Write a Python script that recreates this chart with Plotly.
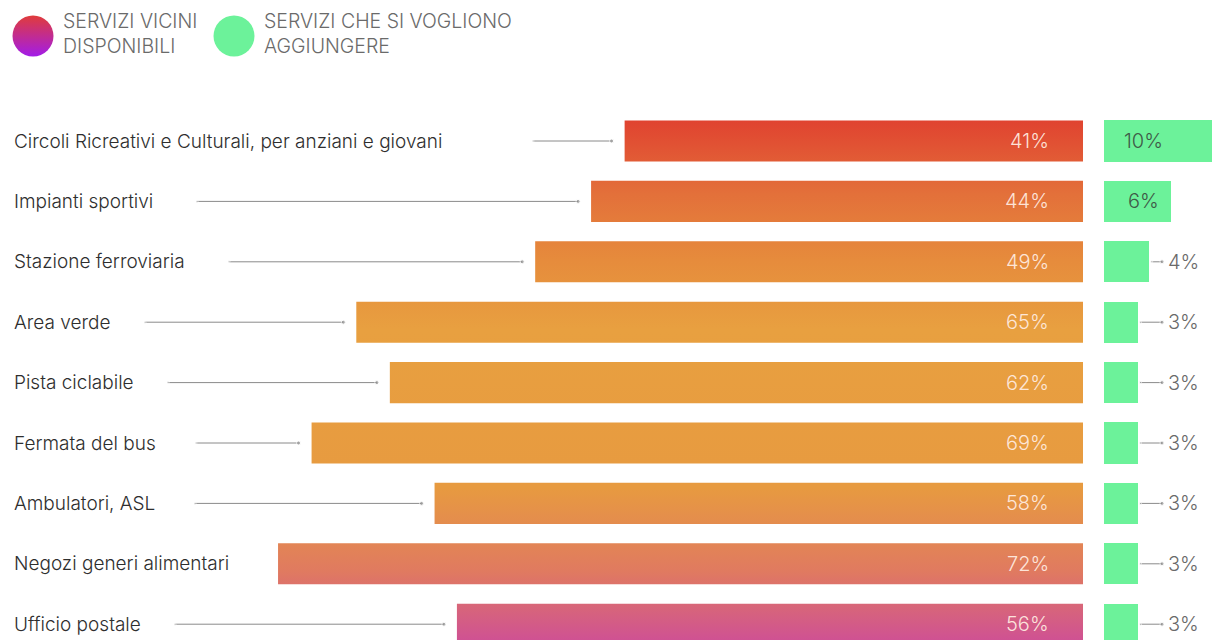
import plotly.graph_objects as go

# ---- data ----
categories = [
    "Circoli Ricreativi e Culturali, per anziani e giovani",
    "Impianti sportivi",
    "Stazione ferroviaria",
    "Area verde",
    "Pista ciclabile",
    "Fermata del bus",
    "Ambulatori, ASL",
    "Negozi generi alimentari",
    "Ufficio postale",
]
disponibili = [41, 44, 49, 65, 62, 69, 58, 72, 56]
aggiungere = [10, 6, 4, 3, 3, 3, 3, 3, 3]
legend_labels = ["SERVIZI VICINI<br>DISPONIBILI", "SERVIZI CHE SI VOGLIONO<br>AGGIUNGERE"]

# ---- layout / style ----
W, H = 1212, 640
ZERO_PX = 1083.0      # pixel where left bars end
PX_PER_UNIT = 11.18   # pixels per percentage point
ROW0_PX = 141.0
ROW_STEP = 60.4
BAR_H = 0.68
GREEN_GAP = 21 / PX_PER_UNIT
connector_start_px = [533, 197, 229, 145, 168, 196, 195, None, 175]
FONT = "Inter"
GREEN = "#6cf29a"
LINE_GRAY = "#8a8a8a"


def px2x(px):
    return (px - ZERO_PX) / PX_PER_UNIT


def px2y(py):
    return (py - ROW0_PX) / ROW_STEP


fig = go.Figure()

n = len(categories)
# gradient-filled left bars (one continuous vertical gradient)
bx, by = [], []
for i, v in enumerate(disponibili):
    y0, y1 = i - BAR_H / 2, i + BAR_H / 2
    bx += [-v, 0, 0, -v, -v, None]
    by += [y0, y0, y1, y1, y0, None]
fig.add_trace(go.Scatter(
    x=bx, y=by, mode="lines", fill="toself", line=dict(width=0),
    fillgradient=dict(
        type="vertical",
        start=-BAR_H / 2, stop=n - 1 + BAR_H / 2,
        colorscale=[
            [0.0, "#e04330"], [0.14, "#e3703a"], [0.27, "#e68c3c"],
            [0.40, "#e8a040"], [0.70, "#e79a40"], [0.86, "#e07a60"],
            [1.0, "#ce4f96"],
        ],
    ),
    hoverinfo="skip", showlegend=False,
))

# green bars
fig.add_trace(go.Bar(
    y=list(range(n)), x=aggiungere, base=[GREEN_GAP] * n, orientation="h",
    width=BAR_H, marker=dict(color=GREEN, line=dict(width=0)),
    hoverinfo="skip", showlegend=False,
))

# left connectors
for i, (v, s) in enumerate(zip(disponibili, connector_start_px)):
    if s is None:
        continue
    x_end = -v - 13 / PX_PER_UNIT
    fig.add_trace(go.Scatter(
        x=[px2x(s), x_end], y=[i, i], mode="lines+markers",
        line=dict(color=LINE_GRAY, width=1),
        marker=dict(size=[2, 4], color=LINE_GRAY),
        hoverinfo="skip", showlegend=False,
    ))

annotations = []
# category labels
for i, c in enumerate(categories):
    annotations.append(dict(
        x=px2x(12), y=i, text=c, xanchor="left", yanchor="middle",
        showarrow=False, font=dict(family=FONT, size=19, weight=300, color="#2e2e2e"),
    ))
# value labels inside left bars
for i, v in enumerate(disponibili):
    annotations.append(dict(
        x=px2x(1051), y=i, text=f"{v}%", xanchor="right", yanchor="middle",
        showarrow=False,
        font=dict(family=FONT, size=20, weight=300, color="rgba(255,236,225,0.95)"),
    ))
# green labels
for i, v in enumerate(aggiungere):
    if v >= 5:
        annotations.append(dict(
            x=px2x(1143), y=i, text=f"{v}%", xanchor="center", yanchor="middle",
            showarrow=False, font=dict(family=FONT, size=20, weight=300, color="#3f5a48"),
        ))
    else:
        x0 = GREEN_GAP + v + 3 / PX_PER_UNIT
        fig.add_trace(go.Scatter(
            x=[x0, px2x(1162)], y=[i, i], mode="lines+markers",
            line=dict(color=LINE_GRAY, width=1),
            marker=dict(size=[2, 4], color=LINE_GRAY),
            hoverinfo="skip", showlegend=False,
        ))
        annotations.append(dict(
            x=px2x(1201), y=i, text=f"{v}%", xanchor="right", yanchor="middle",
            showarrow=False, font=dict(family=FONT, size=20, weight=300, color="#6a6a6a"),
        ))

# legend markers
fig.add_trace(go.Scatter(
    x=[px2x(33)], y=[px2y(36)], mode="markers",
    marker=dict(size=41, color="#e03c3a",
                gradient=dict(type="vertical", color="#a21ce8"),
                line=dict(width=0)),
    hoverinfo="skip", showlegend=False,
))
fig.add_trace(go.Scatter(
    x=[px2x(234)], y=[px2y(36)], mode="markers",
    marker=dict(size=41, color=GREEN, line=dict(width=0)),
    hoverinfo="skip", showlegend=False,
))
for px, t in zip([61, 262], legend_labels):
    annotations.append(dict(
        x=px2x(px), y=px2y(33), text=t, xanchor="left", yanchor="middle",
        align="left", showarrow=False,
        font=dict(family=FONT, size=19.5, weight=300, color="#6a6a6a"),
    ))

fig.update_layout(
    width=W, height=H,
    margin=dict(l=0, r=0, t=0, b=0),
    paper_bgcolor="white", plot_bgcolor="white",
    xaxis=dict(range=[px2x(0), px2x(W)], visible=False, fixedrange=True),
    yaxis=dict(range=[px2y(H), px2y(0)], visible=False, fixedrange=True),
    annotations=annotations,
    showlegend=False,
    bargap=0,
)

fig.write_html("out.html", config={"displayModeBar": False})
